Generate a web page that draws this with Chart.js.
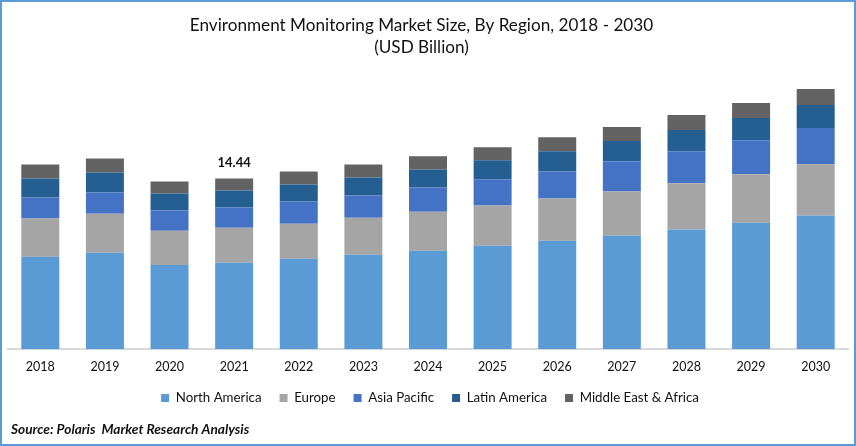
<!DOCTYPE html>
<html>
<head>
<meta charset="utf-8">
<title>Environment Monitoring Market Size</title>
<script src="https://cdn.jsdelivr.net/npm/chart.js@4"></script>
<style>
  html, body { margin: 0; padding: 0; background: #fff; overflow: hidden; }
  canvas { display: block; }
</style>
</head>
<body>
<canvas id="marketChart" width="856" height="446"></canvas>
<script>
const years = ['2018','2019','2020','2021','2022','2023','2024','2025','2026','2027','2028','2029','2030'];

const northAmerica = [7.81, 8.15, 7.13, 7.30, 7.64, 7.98, 8.32, 8.75, 9.17, 9.60, 10.11, 10.70, 11.30];
const europe       = [3.23, 3.31, 2.89, 2.97, 2.97, 3.14, 3.31, 3.40, 3.57, 3.74, 3.91, 4.08, 4.33];
const asiaPacific  = [1.78, 1.78, 1.70, 1.70, 1.87, 1.87, 2.04, 2.21, 2.29, 2.55, 2.72, 2.89, 3.06];
const latinAmerica = [1.61, 1.70, 1.44, 1.44, 1.44, 1.53, 1.53, 1.61, 1.70, 1.70, 1.78, 1.87, 1.95];
const middleEast   = [1.19, 1.19, 1.02, 1.03, 1.10, 1.10, 1.10, 1.10, 1.19, 1.19, 1.27, 1.27, 1.36];

const labelYear = '2021';
const labelText = '14.44';
const sourceText = 'Source: Polaris  Market Research Analysis';

const FONT = 'Lato, Carlito, sans-serif';

function series(label, data, color) {
  return {
    label: label,
    data: data,
    backgroundColor: color,
    borderWidth: 0,
    categoryPercentage: 1,
    barPercentage: 0.588
  };
}

// frame round the picture, the one bar label, and the title offsets
const extras = {
  id: 'extras',
  afterLayout(chart) {
    chart.titleBlock.right -= 13;
    chart.legend.left += 4;
    chart.legend.top -= 3;
    const source = chart.boxes.find(b => b.options && b.options.text === sourceText);
    source.left = 11;
  },
  beforeDraw(chart) {
    const ctx = chart.ctx;
    ctx.save();
    ctx.fillStyle = '#fff';
    ctx.fillRect(0, 0, chart.width, chart.height);
    ctx.strokeStyle = '#5B9BD5';
    ctx.lineWidth = 2;
    ctx.strokeRect(1, 1, chart.width - 2, chart.height - 2);
    ctx.restore();
  },
  afterDatasetsDraw(chart) {
    const last = chart.data.datasets.length - 1;
    const bar = chart.getDatasetMeta(last).data[years.indexOf(labelYear)];
    const ctx = chart.ctx;
    ctx.save();
    ctx.font = 'bold 13px ' + FONT;
    ctx.fillStyle = '#111';
    ctx.textAlign = 'center';
    ctx.textBaseline = 'middle';
    ctx.fillText(labelText, bar.x, bar.y - 16);
    ctx.restore();
  }
};

new Chart(document.getElementById('marketChart'), {
  type: 'bar',
  data: {
    labels: years,
    datasets: [
      series('North America', northAmerica, '#5B9BD5'),
      series('Europe', europe, '#A5A5A5'),
      series('Asia Pacific', asiaPacific, '#4472C4'),
      series('Latin America', latinAmerica, '#255E91'),
      series('Middle East & Africa', middleEast, '#636363')
    ]
  },
  plugins: [extras],
  options: {
    responsive: false,
    animation: false,
    layout: { padding: { left: 8, right: 8, top: 0, bottom: 8 } },
    scales: {
      x: {
        stacked: true,
        grid: { display: false },
        border: { color: '#D9D9D9', width: 2 },
        ticks: { color: '#111', font: { family: FONT, size: 12.5 }, padding: 2, maxRotation: 0 }
      },
      y: { stacked: true, display: false, min: 0, max: 24 }
    },
    plugins: {
      title: {
        display: true,
        text: ['Environment Monitoring Market Size, By Region, 2018 - 2030', '(USD Billion)'],
        color: '#111',
        font: { family: FONT, size: 17.15, weight: 'normal', lineHeight: 1.29 },
        padding: { top: 14, bottom: 7 }
      },
      legend: {
        position: 'bottom',
        labels: {
          color: '#111',
          font: { family: FONT, size: 13.3 },
          boxWidth: 8,
          boxHeight: 8,
          padding: 18
        }
      },
      subtitle: {
        display: true,
        position: 'bottom',
        align: 'start',
        text: sourceText,
        color: '#111',
        font: { family: FONT, size: 13.7, weight: 'bold', style: 'italic' },
        padding: { top: 4, bottom: 0 }
      },
      tooltip: { enabled: false }
    }
  }
});
</script>
</body>
</html>
